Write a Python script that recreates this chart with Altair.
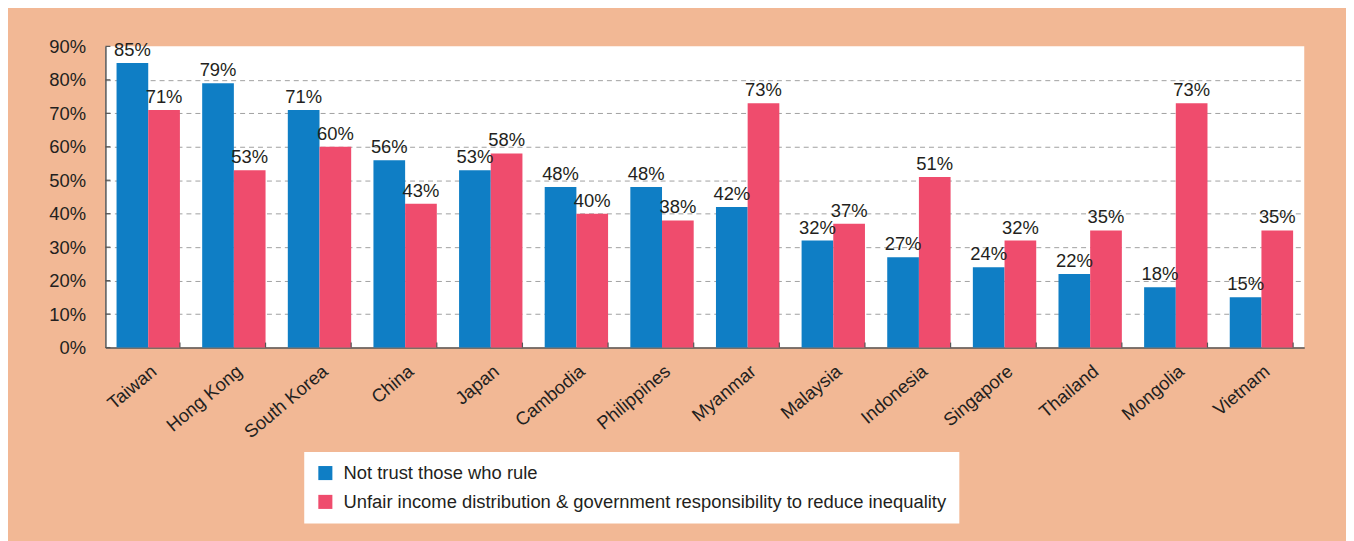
import altair as alt
import pandas as pd

countries = ["Taiwan", "Hong Kong", "South Korea", "China", "Japan", "Cambodia",
             "Philippines", "Myanmar", "Malaysia", "Indonesia", "Singapore",
             "Thailand", "Mongolia", "Vietnam"]
not_trust = [85, 79, 71, 56, 53, 48, 48, 42, 32, 27, 24, 22, 18, 15]
unfair = [71, 53, 60, 43, 58, 40, 38, 73, 37, 51, 32, 35, 73, 35]
series = ["Not trust those who rule",
          "Unfair income distribution & government responsibility to reduce inequality"]
yticks = [0, 10, 20, 30, 40, 50, 60, 70, 80, 90]

BLUE = "#0f7ec5"
RED = "#ef4c6d"
PEACH = "#f2b895"
TXT = "#231f20"
AXC = "#555555"
FONT = "Liberation Sans"
FS = 18.5

rows = []
for i, c in enumerate(countries):
    rows.append(dict(country=c, series=series[0], value=not_trust[i], label=f"{not_trust[i]}%"))
    rows.append(dict(country=c, series=series[1], value=unfair[i], label=f"{unfair[i]}%"))
df = pd.DataFrame(rows)
ydf = pd.DataFrame({"value": yticks})
cdf = pd.DataFrame({"country": countries})

W, H = 1206, 303

xaxis = alt.Axis(title=None, labelAngle=320, labelAlign="right", labelBaseline="top",
                 labelPadding=14, tickSize=0, domainColor=AXC, domainWidth=1.5,
                 labelFontSize=FS, labelColor=TXT, labelFont=FONT, labelOverlap=False)
yaxis = alt.Axis(values=yticks, tickCount=10, title=None, labelExpr="datum.value + '%'",
                 tickSize=0, labelPadding=20, labelFontSize=FS, labelColor=TXT,
                 labelFont=FONT, labelOverlap=False, grid=True, gridDash=[5, 4],
                 gridColor="#a0a0a0",
                 gridOpacity={"condition": {"test": "datum.value <= 0 || datum.value >= 90", "value": 0}, "value": 1},
                 domainColor=AXC, domainWidth=1.5)
xscale = alt.Scale(paddingInner=0.26, paddingOuter=0.13)
yscale = alt.Scale(domain=[0, 90], nice=False)

x = alt.X("country:N", sort=countries, scale=xscale, axis=xaxis)
xo = alt.XOffset("series:N", sort=series, scale=alt.Scale(paddingInner=0, paddingOuter=0))
y = alt.Y("value:Q", scale=yscale, axis=yaxis)

bars = alt.Chart(df).mark_bar().encode(
    x=x, xOffset=xo, y=y,
    color=alt.Color("series:N", scale=alt.Scale(domain=series, range=[BLUE, RED]),
                    legend=alt.Legend(title=None, orient="none", legendX=200, legendY=408,
                                      fillColor="white", padding=12, symbolType="square",
                                      symbolSize=200, symbolStrokeWidth=0, labelFontSize=FS,
                                      labelColor=TXT, labelFont=FONT, rowPadding=10,
                                      labelLimit=1000, labelOffset=9)),
)

text = alt.Chart(df).mark_text(baseline="alphabetic", dy=-7, fontSize=FS, font=FONT, color=TXT).encode(
    x=x, xOffset=xo, y=y, text="label:N")

xt = alt.Chart(cdf).mark_rule(color=AXC, strokeWidth=1.2).encode(
    x=alt.X("country:N", sort=countries, scale=xscale, axis=xaxis, bandPosition=1),
    y=alt.value(H), y2=alt.value(H - 5))

yt = alt.Chart(ydf).mark_rule(color=AXC, strokeWidth=1.2).encode(
    y=y, x=alt.value(0), x2=alt.value(5))

chart = alt.layer(bars, text, xt, yt).properties(
    width=W, height=H,
    padding={"left": 98, "top": 37, "right": 42, "bottom": 193},
    autosize=alt.AutoSizeParams(type="none"),
    background=PEACH,
).configure(font=FONT).configure_view(fill="white", stroke=None)

chart.save("out.html", embed_options={"renderer": "svg", "actions": False})
